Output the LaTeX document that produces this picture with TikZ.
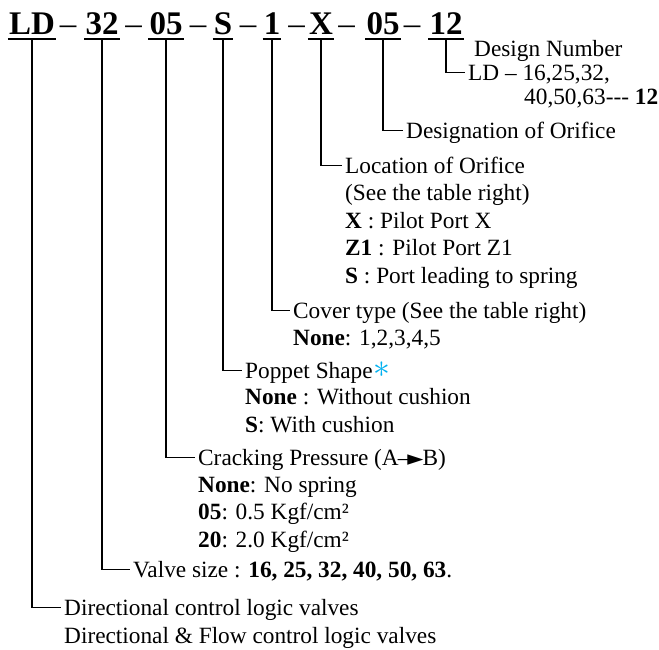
\documentclass[tikz,border=0pt]{standalone}
\usepackage{fontspec}
\setmainfont{Liberation Serif}
\newfontfamily\symfont{DejaVu Sans}
\usetikzlibrary{positioning}
\definecolor{astblue}{RGB}{0,176,240}

\begin{document}
\begin{tikzpicture}[x=1pt, y=-1pt,
   code/.style = {font=\fontsize{33}{33}\selectfont\bfseries, inner xsep=1pt, inner ysep=0pt, text depth=5pt, anchor=base},
   sepdash/.style = {font=\fontsize{33}{33}\selectfont, inner sep=0pt, anchor=base},
   head/.style = {font=\fontsize{23.3}{27.5}\selectfont, inner xsep=3pt, inner ysep=0pt, text height=15pt, text depth=0pt, anchor=base west},
   more/.style = {font=\fontsize{23.3}{27.5}\selectfont, inner sep=0pt, align=left, anchor=base west},
   conn/.style = {line width=1.6pt},
   uline/.style = {line width=1.8pt}]
   \useasboundingbox (0,0) rectangle (659,649);
   \node[code] (c_ld)  at (32,34)  {LD};
   \node[sepdash] (d_1)   at (68,34)  {--};
   \node[code] (c_sz)  at (102,34) {32};
   \node[sepdash] (d_2)   at (133.5,34) {--};
   \node[code] (c_cp)  at (166,34) {05};
   \node[sepdash] (d_3)   at (198,34) {--};
   \node[code] (c_ps)  at (223,34) {S};
   \node[sepdash] (d_4)   at (248,34) {--};
   \node[code] (c_cv)  at (272,34) {1};
   \node[sepdash] (d_5)   at (296.5,34) {--};
   \node[code] (c_lo)  at (321,34) {X};
   \node[sepdash] (d_6)   at (346.5,34) {--};
   \node[code] (c_or)  at (383,34) {05};
   \node[sepdash] (d_7)   at (412,34) {--};
   \node[code] (c_dn)  at (446,34) {12};
   \node[more] (t_dn0) at (474,56)  {Design Number};
   \node[head] (t_dn)  at (465,80)  {LD -- 16,25,32,};
   \node[more] (t_dn1) at (524,104) {40,50,63-{}-{}- \textbf{12}};
   \node[head] (t_or)  at (403,138) {Designation of Orifice};
   \node[head] (t_lo)  at (342,173) {Location of Orifice};
   \node[more] (t_lo1) at (345,283) {(See the table right)\\\textbf{X} : Pilot Port X\\\textbf{Z1} : Pilot Port Z1\\\textbf{S} : Port leading to spring};
   \node[head] (t_cv)  at (290,318) {Cover type (See the table right)};
   \node[more] (t_cv1) at (293,345) {\textbf{None}: 1,2,3,4,5};
   \node[head] (t_ps)  at (242,378) {Poppet Shape\kern1pt\raisebox{1pt}{\textcolor{astblue}{\scalebox{1.35}{$\ast$}}}};
   \node[more] (t_ps1) at (245,432) {\textbf{None} : Without cushion\\\textbf{S}: With cushion};
   \node[head] (t_cp)  at (195,465) {Cracking Pressure (A\kern-1pt--\kern-2pt{\symfont\fontsize{21}{21}\selectfont ►}\kern-1ptB)};
   \node[more] (t_cp1) at (198,547) {\textbf{None}: No spring\\\textbf{05}: 0.5 Kgf/cm²\\\textbf{20}: 2.0 Kgf/cm²};
   \node[head] (t_sz)  at (130,577) {Valve size : \textbf{16, 25, 32, 40, 50, 63}.};
   \node[head] (t_ld)  at (61,615)  {Directional control logic valves};
   \node[more] (t_ld1) at (64,643)  {Directional \& Flow control logic valves};
   \draw[uline]
    (c_ld.south west) -- (c_ld.south east)
    (c_sz.south west) -- (c_sz.south east)
    (c_cp.south west) -- (c_cp.south east)
    (c_ps.south west) -- (c_ps.south east)
    (c_cv.south west) -- (c_cv.south east)
    (c_lo.south west) -- (c_lo.south east)
    (c_or.south west) -- (c_or.south east)
    (c_dn.south west) -- (c_dn.south east);
   \draw[conn]
    (c_dn.south) |- (t_dn.west)
    (c_or.south) |- (t_or.west)
    (c_lo.south) |- (t_lo.west)
    (c_cv.south) |- (t_cv.west)
    (c_ps.south) |- (t_ps.west)
    (c_cp.south) |- (t_cp.west)
    (c_sz.south) |- (t_sz.west)
    (c_ld.south) |- (t_ld.west);
\end{tikzpicture}
\end{document}
